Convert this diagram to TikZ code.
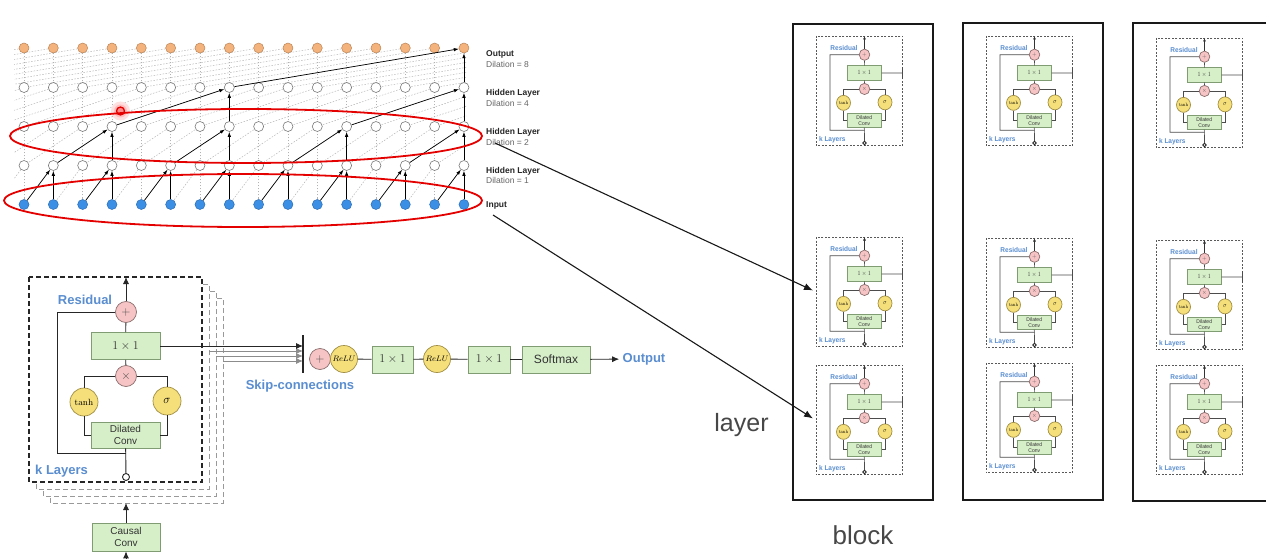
\documentclass[tikz,border=0pt]{standalone}
\usepackage{fontspec}
\newfontfamily\hv{Liberation Sans}
\usetikzlibrary{arrows.meta}
\definecolor{gfill}{HTML}{D6EFC8}
\definecolor{gdraw}{HTML}{7F9C72}
\definecolor{pfill}{HTML}{F6C4C4}
\definecolor{pdraw}{HTML}{8C6E6E}
\definecolor{yfill}{HTML}{F5DF7A}
\definecolor{ydraw}{HTML}{A08F45}
\definecolor{lblue}{HTML}{5A8ED0}
\definecolor{onfill}{HTML}{F4B27C}
\definecolor{ondraw}{HTML}{B98558}
\definecolor{infill}{HTML}{3B8FE5}
\definecolor{indraw}{HTML}{2C6BB0}
\definecolor{hdraw}{HTML}{7A7A7A}
\tikzset{
 gbox/.style={draw=gdraw, fill=gfill, line width=0.7pt, inner sep=0pt, align=center, text=black!80},
 pinkc/.style={circle, draw=pdraw, fill=pfill, line width=0.7pt, minimum size=21pt, inner sep=0pt, text=black!70, font=\fontsize{13}{13}\selectfont},
 yellc/.style={circle, draw=ydraw, fill=yfill, line width=0.7pt, minimum size=28pt, inner sep=0pt},
 openc/.style={circle, draw=black!85, fill=white, line width=0.9pt, minimum size=7pt, inner sep=0pt},
 wire/.style={draw=black!85, line width=0.9pt},
 arr/.style={wire, -{Latex[length=7pt,width=6pt]}},
 toparr/.style={arr},
 garr/.style={draw=black!45, line width=0.9pt, -{Latex[length=7pt,width=6pt]}},
 blab/.style={text=lblue, font=\hv\bfseries\fontsize{13}{14}\selectfont},
 onode/.style={circle, draw=ondraw, fill=onfill, minimum size=10pt, inner sep=0pt, line width=0.5pt},
 hnode/.style={circle, draw=hdraw, fill=white, minimum size=10pt, inner sep=0pt, line width=0.6pt},
 inode/.style={circle, draw=indraw, fill=infill, minimum size=10pt, inner sep=0pt, line width=0.5pt},
 tarr/.style={draw=black, line width=0.7pt, -{Latex[length=5pt,width=3.5pt]}},
 gridln/.style={draw=black!30, line width=0.45pt, dash pattern=on 1.5pt off 1.5pt},
 tlab/.style={font=\hv\bfseries\fontsize{8.5}{9}\selectfont, text=black!85, anchor=west, inner sep=0pt},
 tsub/.style={font=\hv\fontsize{8.5}{9}\selectfont, text=black!60, anchor=west, inner sep=0pt},
 blockln/.style={draw=black!90, line width=2.4pt},
 bigtxt/.style={font=\hv\fontsize{25}{26}\selectfont, text=black!72, anchor=base},
 bigarr/.style={draw=black!90, line width=1.1pt, -{Latex[length=9pt,width=7pt]}},
 mainbox/.style={draw=black!85, line width=1.1pt, dash pattern=on 5pt off 3pt, fill=white},
 backbox/.style={draw=black!40, line width=1pt, dash pattern=on 5pt off 3pt, fill=white},
 minibox/.style={draw=black!65, line width=0.8pt, dash pattern=on 2pt off 1.5pt, fill=white},
 redring/.style={draw=red!90!black, line width=1.8pt},
}
% #1 prefix, #2 box style
\newcommand\wcell[2]{%
  \draw[#2] (0,0) rectangle (173,205);
  \node[pinkc] (#1p) at (97,35) {$+$};
  \node[gbox, minimum width=69pt, minimum height=27pt, font=\fontsize{13}{13}\selectfont] (#1a) at (96.5,69) {$1\times1$};
  \node[pinkc] (#1m) at (97,99) {$\times$};
  \node[yellc, font=\fontsize{9}{9}\selectfont] (#1t) at (55,125) {$\tanh$};
  \node[yellc, font=\fontsize{13}{13}\selectfont] (#1s) at (138,124) {$\sigma$};
  \node[gbox, minimum width=69pt, minimum height=26pt, font=\hv\fontsize{10}{12}\selectfont] (#1d) at (96.5,158) {Dilated\\Conv};
  \node[openc] (#1o) at (97,200) {};
  \coordinate (#1top) at (97,0);
  \coordinate (#1r) at (97,176);
  \coordinate (#1c1) at (28,176);
  \coordinate (#1c2) at (28,35);
  \draw[toparr] (#1p) -- (#1top);
  \draw[wire] (#1a) -- (#1p);
  \draw[wire] (#1m) -- (#1a);
  \draw[wire] (#1m) -| (#1t);
  \draw[wire] (#1m) -| (#1s);
  \draw[wire] (#1t) |- (#1d);
  \draw[wire] (#1s) |- (#1d);
  \draw[wire] (#1o) -- (#1d);
  \draw[wire] (#1r) -- (#1c1) -- (#1c2) -- (#1p);
  \node[blab] (#1res) at (56,23) {Residual};
  \node[blab, anchor=west, inner sep=0pt] (#1kl) at (6,194) {k Layers};
}
% mini extras
\newcommand\wmini[1]{%
  \coordinate (#1sk) at (173,69);
  \coordinate (#1k1) at (173,58);
  \coordinate (#1k2) at (173,80);
  \coordinate (#1w) at (-6,100);
  \draw[wire] (#1a) -- (#1sk);
  \draw[wire] (#1k1) -- (#1k2);
}
\tikzset{miniscope/.style={xscale=0.5, yscale=0.535, transform shape,
  wire/.style={draw=black!70, line width=0.7pt},
  toparr/.style={draw=black!80, line width=0.7pt, -{Latex[length=3.5pt,width=3pt]}}}}
\begin{document}
\begin{tikzpicture}[x=1pt,y=-1pt]
\useasboundingbox (0,0) rectangle (1283,559);
\fill[white] (0,0) rectangle (1283,559);

% ---------- top: dilated stack ----------
\begin{scope}
\clip (14,40) rectangle (466,210);
\foreach \c in {0,...,15} { \draw[gridln] ({24+29.33*\c},204.5) -- ({24+29.33*\c},48); }
\foreach \d/\ya/\yb in {1/204.5/165.5, 2/165.5/126.5, 4/126.5/87.5, 8/87.5/48} {
  \foreach \c in {-8,...,14} { \draw[gridln] ({24+29.33*\c},\ya) -- ({24+29.33*(\c+\d)},\yb); }
}
\end{scope}
\foreach \c in {0,...,15} {
  \node[inode] (t0-\c) at ({24+29.33*\c},204.5) {};
  \node[hnode] (t1-\c) at ({24+29.33*\c},165.5) {};
  \node[hnode] (t2-\c) at ({24+29.33*\c},126.5) {};
  \node[hnode] (t3-\c) at ({24+29.33*\c},87.5) {};
  \node[onode] (t4-\c) at ({24+29.33*\c},48) {};
}
\foreach \a/\b in {0/1,1/1,2/3,3/3,4/5,5/5,6/7,7/7,8/9,9/9,10/11,11/11,12/13,13/13,14/15,15/15}
  { \draw[tarr] (t0-\a) -- (t1-\b); }
\foreach \a/\b in {1/3,3/3,5/7,7/7,9/11,11/11,13/15,15/15}
  { \draw[tarr] (t1-\a) -- (t2-\b); }
\foreach \a/\b in {3/7,7/7,11/15,15/15}
  { \draw[tarr] (t2-\a) -- (t3-\b); }
\foreach \a/\b in {7/15,15/15}
  { \draw[tarr] (t3-\a) -- (t4-\b); }

% red highlighted dot
\fill[red!12] (120.5,111) circle (9.5);
\fill[red!25] (120.5,111) circle (6.5);
\node[circle, draw=red!90!black, fill=red!45, line width=1.3pt, minimum size=8pt, inner sep=0pt] (rdot) at (120.5,111) {};

\draw[redring] (246,136) ellipse [x radius=236, y radius=27];
\draw[redring] (243,200.5) ellipse [x radius=239, y radius=26.5];

\node[tlab] (l4a) at (486,54) {Output};
\node[tsub] (l4b) at (486,64.3) {Dilation = 8};
\node[tlab] (l3a) at (486,93.3) {Hidden Layer};
\node[tsub] (l3b) at (486,103.3) {Dilation = 4};
\node[tlab] (l2a) at (486,132.3) {Hidden Layer};
\node[tsub] (l2b) at (486,142.3) {Dilation = 2};
\node[tlab] (l1a) at (486,171) {Hidden Layer};
\node[tsub] (l1b) at (486,180.7) {Dilation = 1};
\node[tlab] (l0a) at (486,205.7) {Input};

% ---------- bottom-left: residual block ----------
\draw[backbox] (50,298) rectangle (223,503);
\draw[backbox] (43,291) rectangle (216,496);
\draw[backbox] (36,284) rectangle (209,489);
\begin{scope}[shift={(29,277)}]
  \wcell{m}{mainbox}
\end{scope}
\coordinate (bt) at (303,335);
\coordinate (bb) at (303,373);
\coordinate (sk0) at (303,346);
\coordinate (g1s) at (209,351);
\coordinate (g1e) at (303,351);
\coordinate (g2s) at (216,356);
\coordinate (g2e) at (303,356);
\coordinate (g3s) at (223,361);
\coordinate (g3e) at (303,361);
\draw[garr] (g3s) -- (g3e);
\draw[garr] (g2s) -- (g2e);
\draw[garr] (g1s) -- (g1e);
\draw[arr] (ma) -- (sk0);
\draw[wire, line width=1.2pt] (bt) -- (bb);
\node[blab] (skl) at (300,386) {Skip-connections};

\node[pinkc] (cplus) at (320,359) {$+$};
\node[yellc, minimum size=27pt, font=\fontsize{8.5}{9}\selectfont] (crelu1) at (344,359) {$ReLU$};
\node[gbox, minimum width=41pt, minimum height=27pt, font=\fontsize{13}{13}\selectfont] (c11) at (392.5,359.5) {$1\times1$};
\node[yellc, minimum size=27pt, font=\fontsize{8.5}{9}\selectfont] (crelu2) at (437,359) {$ReLU$};
\node[gbox, minimum width=42pt, minimum height=27pt, font=\fontsize{13}{13}\selectfont] (c12) at (489,359.5) {$1\times1$};
\node[gbox, minimum width=68pt, minimum height=27pt, font=\hv\fontsize{12}{12}\selectfont] (csm) at (556,359.5) {Softmax};
\node[blab] (cout) at (644,359) {Output};
\draw[wire] (crelu1) -- (c11);
\draw[wire] (c11) -- (crelu2);
\draw[wire] (crelu2) -- (c12);
\draw[wire] (c12) -- (csm);
\draw[arr] (csm) -- (cout);

\node[gbox, minimum width=68pt, minimum height=28pt, font=\hv\fontsize{10}{12}\selectfont] (cc) at (126,537) {Causal\\Conv};
\coordinate (stb) at (126,503);
\coordinate (ccin) at (126,568);
\draw[arr] (cc) -- (stb);
\draw[arr] (ccin) -- (cc);

% ---------- right: blocks ----------
\draw[blockln] (793,24) rectangle (933,500);
\draw[blockln] (963,23) rectangle (1103,500);
\draw[blockln] (1266,23) -- (1133,23) -- (1133,501) -- (1266,501);

\foreach \bx/\by/\nm in {816/36/b1c1, 816/237/b1c2, 816/365/b1c3,
                          986/36/b2c1, 986/238/b2c2, 986/363/b2c3,
                          1156/38/b3c1, 1156/240/b3c2, 1156/365/b3c3} {
  \begin{scope}[shift={(\bx,\by)}, miniscope]
    \wcell{\nm}{minibox}
    \wmini{\nm}
  \end{scope}
}

\coordinate (s1) at (495,143);
\coordinate (s2) at (493,215);
\draw[bigarr] (s1) -- (b1c2w);
\draw[bigarr] (s2) -- (b1c3w);

\node[bigtxt] (layertxt) at (741.5,431.5) {layer};
\node[bigtxt, font=\hv\fontsize{26}{27}\selectfont] (blocktxt) at (863,544) {block};
\end{tikzpicture}
\end{document}
